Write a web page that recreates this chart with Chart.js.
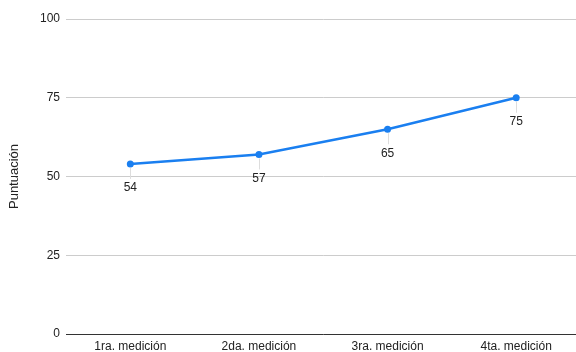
<!DOCTYPE html>
<html>
<head>
<meta charset="utf-8">
<script src="https://cdn.jsdelivr.net/npm/chart.js@4/dist/chart.umd.min.js"></script>
<style>
  html, body { margin: 0; padding: 0; background: #fff; overflow: hidden; }
  #wrap { width: 576px; height: 352px; overflow: hidden; }
</style>
</head>
<body>
<div id="wrap"><canvas id="c" width="584" height="352"></canvas></div>
<script>
const categories = ['1ra. medición', '2da. medición', '3ra. medición', '4ta. medición'];
const scores = [54, 57, 65, 75];
const yTicks = [0, 25, 50, 75, 100];
const yTitle = 'Puntuación';

const FONT = '"Liberation Sans", Arial, Helvetica, sans-serif';
const LINE_COLOR = '#1a7ff0';

// Value labels under each point, joined to the point by a thin leader line
const valueLabels = {
  id: 'valueLabels',
  afterDatasetsDraw(chart) {
    const ctx = chart.ctx;
    const meta = chart.getDatasetMeta(0);
    ctx.save();
    meta.data.forEach((pt, i) => {
      const x = pt.x, y = pt.y;
      ctx.strokeStyle = '#dddddd';
      ctx.lineWidth = 1;
      ctx.beginPath();
      ctx.moveTo(Math.round(x) + 0.5, y + 4);
      ctx.lineTo(Math.round(x) + 0.5, y + 15);
      ctx.stroke();
      ctx.fillStyle = '#222';
      ctx.font = '12px ' + FONT;
      ctx.textAlign = 'center';
      ctx.textBaseline = 'middle';
      ctx.fillText(String(chart.data.datasets[0].data[i]), x, y + 24);
    });
    ctx.restore();
  }
};

new Chart(document.getElementById('c'), {
  type: 'line',
  data: {
    labels: categories,
    datasets: [{
      data: scores,
      borderColor: LINE_COLOR,
      backgroundColor: LINE_COLOR,
      borderWidth: 2.5,
      pointRadius: 3.5,
      pointHoverRadius: 3.5,
      pointBackgroundColor: LINE_COLOR,
      pointBorderWidth: 0,
      tension: 0
    }]
  },
  options: {
    responsive: false,
    animation: false,
    events: [],
    layout: { padding: { top: 19, right: 0, bottom: 0, left: 0 } },
    plugins: {
      legend: { display: false },
      tooltip: { enabled: false }
    },
    scales: {
      x: {
        offset: true,
        grid: { display: false, drawTicks: false },
        border: { display: false },
        ticks: {
          padding: 5,
          color: '#222',
          font: { family: FONT, size: 12 },
          maxRotation: 0
        },
        afterFit(scale) { scale.height = 18; }
      },
      y: {
        min: 0,
        max: 100,
        afterBuildTicks(scale) { scale.ticks = yTicks.map(v => ({ value: v })); },
        grid: {
          drawTicks: false,
          color: ctx => ctx.tick && ctx.tick.value === 0 ? '#333333' : '#cccccc',
          lineWidth: 1
        },
        border: { display: false },
        ticks: {
          padding: 6,
          color: '#222',
          font: { family: FONT, size: 12 }
        },
        title: {
          display: true,
          text: yTitle,
          color: '#222',
          font: { family: FONT, size: 13 },
          padding: { top: 7, bottom: 4 }
        },
        afterFit(scale) { scale.width = 66; }
      }
    }
  },
  plugins: [valueLabels]
});
</script>
</body>
</html>
